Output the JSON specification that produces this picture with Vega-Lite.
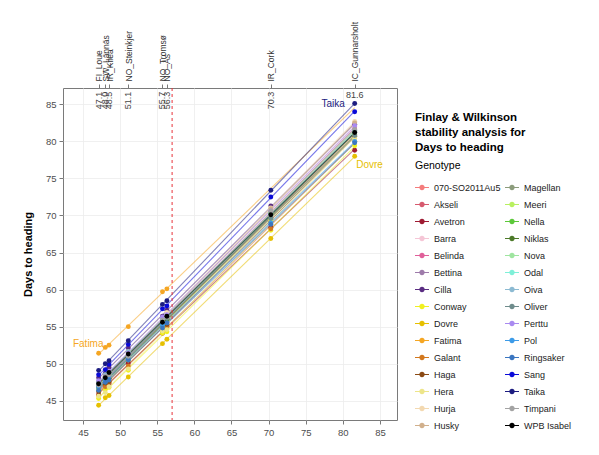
{
  "$schema": "https://vega.github.io/schema/vega-lite/v6.json",
  "width": 334,
  "height": 332,
  "autosize": {"type": "none"},
  "padding": {"left": 63, "top": 88, "right": 202, "bottom": 35},
  "background": "white",
  "config": {
    "font": "Liberation Sans",
    "view": {"stroke": "#7a7a7a", "strokeWidth": 1},
    "axis": {"labelColor": "#4d4d4d", "labelFontSize": 9.5, "tickColor": "#7a7a7a", "tickSize": 4, "domain": false, "gridColor": "#ececec", "gridWidth": 0.8}
  },
  "title": {
    "text": ["Finlay & Wilkinson", "stability analysis for", "Days to heading"],
    "anchor": "start",
    "frame": "group",
    "dx": 352,
    "dy": 132,
    "offset": 0,
    "fontSize": 11.5,
    "fontWeight": "bold",
    "lineHeight": 15,
    "color": "#000000"
  },
  "resolve": {"axis": {"x": "independent", "y": "independent"}},
  "datasets": {
    "obs": [
      {"g":"070-SO2011Au5","x":47.1,"y":46.8},{"g":"070-SO2011Au5","x":48.0,"y":47.3},{"g":"070-SO2011Au5","x":48.5,"y":48.1},{"g":"070-SO2011Au5","x":51.1,"y":50.4},{"g":"070-SO2011Au5","x":55.7,"y":55.5},{"g":"070-SO2011Au5","x":56.3,"y":55.6},{"g":"070-SO2011Au5","x":70.3,"y":69.9},{"g":"070-SO2011Au5","x":81.6,"y":80.9},
      {"g":"Akseli","x":47.1,"y":46.7},{"g":"Akseli","x":48.0,"y":48.1},{"g":"Akseli","x":48.5,"y":48.2},{"g":"Akseli","x":51.1,"y":51.1},{"g":"Akseli","x":55.7,"y":55.2},{"g":"Akseli","x":56.3,"y":56.2},{"g":"Akseli","x":70.3,"y":69.5},{"g":"Akseli","x":81.6,"y":80.9},
      {"g":"Avetron","x":47.1,"y":45.8},{"g":"Avetron","x":48.0,"y":47.1},{"g":"Avetron","x":48.5,"y":47.3},{"g":"Avetron","x":51.1,"y":50.1},{"g":"Avetron","x":55.7,"y":54.1},{"g":"Avetron","x":56.3,"y":55.0},{"g":"Avetron","x":70.3,"y":68.4},{"g":"Avetron","x":81.6,"y":78.8},
      {"g":"Barra","x":47.1,"y":47.6},{"g":"Barra","x":48.0,"y":48.1},{"g":"Barra","x":48.5,"y":48.9},{"g":"Barra","x":51.1,"y":51.2},{"g":"Barra","x":55.7,"y":56.2},{"g":"Barra","x":56.3,"y":56.4},{"g":"Barra","x":70.3,"y":70.8},{"g":"Barra","x":81.6,"y":82.0},
      {"g":"Belinda","x":47.1,"y":46.9},{"g":"Belinda","x":48.0,"y":48.0},{"g":"Belinda","x":48.5,"y":48.6},{"g":"Belinda","x":51.1,"y":50.8},{"g":"Belinda","x":55.7,"y":55.9},{"g":"Belinda","x":56.3,"y":56.1},{"g":"Belinda","x":70.3,"y":70.5},{"g":"Belinda","x":81.6,"y":81.7},
      {"g":"Bettina","x":47.1,"y":47.2},{"g":"Bettina","x":48.0,"y":47.7},{"g":"Bettina","x":48.5,"y":48.3},{"g":"Bettina","x":51.1,"y":51.1},{"g":"Bettina","x":55.7,"y":55.4},{"g":"Bettina","x":56.3,"y":56.3},{"g":"Bettina","x":70.3,"y":69.8},{"g":"Bettina","x":81.6,"y":81.3},
      {"g":"Cilla","x":47.1,"y":48.1},{"g":"Cilla","x":48.0,"y":48.7},{"g":"Cilla","x":48.5,"y":49.5},{"g":"Cilla","x":51.1,"y":52.1},{"g":"Cilla","x":55.7,"y":56.4},{"g":"Cilla","x":56.3,"y":57.2},{"g":"Cilla","x":70.3,"y":71.3},{"g":"Cilla","x":81.6,"y":82.3},
      {"g":"Conway","x":47.1,"y":45.3},{"g":"Conway","x":48.0,"y":46.5},{"g":"Conway","x":48.5,"y":46.8},{"g":"Conway","x":51.1,"y":49.1},{"g":"Conway","x":55.7,"y":54.1},{"g":"Conway","x":56.3,"y":54.3},{"g":"Conway","x":70.3,"y":68.0},{"g":"Conway","x":81.6,"y":79.4},
      {"g":"Dovre","x":47.1,"y":44.4},{"g":"Dovre","x":48.0,"y":45.4},{"g":"Dovre","x":48.5,"y":45.7},{"g":"Dovre","x":51.1,"y":48.2},{"g":"Dovre","x":55.7,"y":52.7},{"g":"Dovre","x":56.3,"y":53.3},{"g":"Dovre","x":70.3,"y":66.9},{"g":"Dovre","x":81.6,"y":78.0},
      {"g":"Fatima","x":47.1,"y":51.4},{"g":"Fatima","x":48.0,"y":52.2},{"g":"Fatima","x":48.5,"y":52.5},{"g":"Fatima","x":51.1,"y":55.0},{"g":"Fatima","x":55.7,"y":59.7},{"g":"Fatima","x":56.3,"y":60.1},
      {"g":"Galant","x":47.1,"y":45.7},{"g":"Galant","x":48.0,"y":46.9},{"g":"Galant","x":48.5,"y":47.5},{"g":"Galant","x":51.1,"y":49.7},{"g":"Galant","x":55.7,"y":54.6},{"g":"Galant","x":56.3,"y":55.0},{"g":"Galant","x":70.3,"y":68.2},{"g":"Galant","x":81.6,"y":80.0},
      {"g":"Haga","x":47.1,"y":46.2},{"g":"Haga","x":48.0,"y":47.4},{"g":"Haga","x":48.5,"y":47.6},{"g":"Haga","x":51.1,"y":50.5},{"g":"Haga","x":55.7,"y":55.1},{"g":"Haga","x":56.3,"y":55.3},{"g":"Haga","x":70.3,"y":69.2},{"g":"Haga","x":81.6,"y":80.7},
      {"g":"Hera","x":47.1,"y":45.6},{"g":"Hera","x":48.0,"y":46.1},{"g":"Hera","x":48.5,"y":46.9},{"g":"Hera","x":51.1,"y":49.3},{"g":"Hera","x":55.7,"y":54.4},{"g":"Hera","x":56.3,"y":54.6},{"g":"Hera","x":70.3,"y":69.3},{"g":"Hera","x":81.6,"y":80.4},
      {"g":"Hurja","x":47.1,"y":47.1},{"g":"Hurja","x":48.0,"y":48.4},{"g":"Hurja","x":48.5,"y":48.6},{"g":"Hurja","x":51.1,"y":51.6},{"g":"Hurja","x":55.7,"y":56.0},{"g":"Hurja","x":56.3,"y":56.9},{"g":"Hurja","x":70.3,"y":71.0},{"g":"Hurja","x":81.6,"y":82.7},
      {"g":"Husky","x":47.1,"y":47.3},{"g":"Husky","x":48.0,"y":47.9},{"g":"Husky","x":48.5,"y":48.7},{"g":"Husky","x":51.1,"y":51.0},{"g":"Husky","x":55.7,"y":56.1},{"g":"Husky","x":56.3,"y":56.4},{"g":"Husky","x":70.3,"y":70.9},{"g":"Husky","x":81.6,"y":82.5},
      {"g":"Magellan","x":47.1,"y":46.6},{"g":"Magellan","x":48.0,"y":47.8},{"g":"Magellan","x":48.5,"y":48.0},{"g":"Magellan","x":51.1,"y":50.9},{"g":"Magellan","x":55.7,"y":55.6},{"g":"Magellan","x":56.3,"y":55.9},{"g":"Magellan","x":70.3,"y":70.2},{"g":"Magellan","x":81.6,"y":81.4},
      {"g":"Meeri","x":47.1,"y":46.5},{"g":"Meeri","x":48.0,"y":47.6},{"g":"Meeri","x":48.5,"y":48.2},{"g":"Meeri","x":51.1,"y":50.5},{"g":"Meeri","x":55.7,"y":55.0},{"g":"Meeri","x":56.3,"y":55.8},{"g":"Meeri","x":70.3,"y":69.5},{"g":"Meeri","x":81.6,"y":80.9},
      {"g":"Nella","x":47.1,"y":47.5},{"g":"Nella","x":48.0,"y":48.2},{"g":"Nella","x":48.5,"y":48.9},{"g":"Nella","x":51.1,"y":51.5},{"g":"Nella","x":55.7,"y":55.7},{"g":"Nella","x":56.3,"y":56.5},{"g":"Nella","x":70.3,"y":70.3},{"g":"Nella","x":81.6,"y":81.0},
      {"g":"Niklas","x":47.1,"y":46.9},{"g":"Niklas","x":48.0,"y":47.5},{"g":"Niklas","x":48.5,"y":48.0},{"g":"Niklas","x":51.1,"y":50.8},{"g":"Niklas","x":55.7,"y":55.2},{"g":"Niklas","x":56.3,"y":56.0},{"g":"Niklas","x":70.3,"y":69.7},{"g":"Niklas","x":81.6,"y":81.3},
      {"g":"Nova","x":47.1,"y":47.0},{"g":"Nova","x":48.0,"y":48.2},{"g":"Nova","x":48.5,"y":48.4},{"g":"Nova","x":51.1,"y":51.3},{"g":"Nova","x":55.7,"y":55.8},{"g":"Nova","x":56.3,"y":56.2},{"g":"Nova","x":70.3,"y":70.4},{"g":"Nova","x":81.6,"y":81.5},
      {"g":"Odal","x":47.1,"y":47.3},{"g":"Odal","x":48.0,"y":47.8},{"g":"Odal","x":48.5,"y":48.6},{"g":"Odal","x":51.1,"y":50.9},{"g":"Odal","x":55.7,"y":55.5},{"g":"Odal","x":56.3,"y":56.4},{"g":"Odal","x":70.3,"y":70.0},{"g":"Odal","x":81.6,"y":81.4},
      {"g":"Oiva","x":47.1,"y":47.4},{"g":"Oiva","x":48.0,"y":48.5},{"g":"Oiva","x":48.5,"y":48.8},{"g":"Oiva","x":51.1,"y":51.6},{"g":"Oiva","x":55.7,"y":56.0},{"g":"Oiva","x":56.3,"y":56.3},{"g":"Oiva","x":70.3,"y":70.1},{"g":"Oiva","x":81.6,"y":81.2},
      {"g":"Oliver","x":47.1,"y":47.0},{"g":"Oliver","x":48.0,"y":48.2},{"g":"Oliver","x":48.5,"y":48.5},{"g":"Oliver","x":51.1,"y":51.2},{"g":"Oliver","x":55.7,"y":55.4},{"g":"Oliver","x":56.3,"y":56.2},{"g":"Oliver","x":70.3,"y":69.6},{"g":"Oliver","x":81.6,"y":80.8},
      {"g":"Perttu","x":47.1,"y":47.7},{"g":"Perttu","x":48.0,"y":48.3},{"g":"Perttu","x":48.5,"y":49.0},{"g":"Perttu","x":51.1,"y":51.4},{"g":"Perttu","x":55.7,"y":56.3},{"g":"Perttu","x":56.3,"y":56.6},{"g":"Perttu","x":70.3,"y":70.6},{"g":"Perttu","x":81.6,"y":82.1},
      {"g":"Pol","x":47.1,"y":46.9},{"g":"Pol","x":48.0,"y":47.6},{"g":"Pol","x":48.5,"y":48.3},{"g":"Pol","x":51.1,"y":50.6},{"g":"Pol","x":55.7,"y":55.2},{"g":"Pol","x":56.3,"y":55.5},{"g":"Pol","x":70.3,"y":69.0},{"g":"Pol","x":81.6,"y":80.0},
      {"g":"Ringsaker","x":47.1,"y":46.4},{"g":"Ringsaker","x":48.0,"y":47.5},{"g":"Ringsaker","x":48.5,"y":47.8},{"g":"Ringsaker","x":51.1,"y":50.5},{"g":"Ringsaker","x":55.7,"y":54.8},{"g":"Ringsaker","x":56.3,"y":55.5},{"g":"Ringsaker","x":70.3,"y":68.8},{"g":"Ringsaker","x":81.6,"y":79.8},
      {"g":"Sang","x":47.1,"y":48.5},{"g":"Sang","x":48.0,"y":49.2},{"g":"Sang","x":48.5,"y":49.9},{"g":"Sang","x":51.1,"y":52.6},{"g":"Sang","x":55.7,"y":57.4},{"g":"Sang","x":56.3,"y":57.8},{"g":"Sang","x":70.3,"y":72.5},{"g":"Sang","x":81.6,"y":84.0},
      {"g":"Taika","x":47.1,"y":49.1},{"g":"Taika","x":48.0,"y":50.0},{"g":"Taika","x":48.5,"y":50.4},{"g":"Taika","x":51.1,"y":53.1},{"g":"Taika","x":55.7,"y":58.0},{"g":"Taika","x":56.3,"y":58.5},{"g":"Taika","x":70.3,"y":73.4},{"g":"Taika","x":81.6,"y":85.1},
      {"g":"Timpani","x":47.1,"y":47.1},{"g":"Timpani","x":48.0,"y":48.3},{"g":"Timpani","x":48.5,"y":48.5},{"g":"Timpani","x":51.1,"y":51.0},{"g":"Timpani","x":55.7,"y":55.9},{"g":"Timpani","x":56.3,"y":56.3},{"g":"Timpani","x":70.3,"y":70.6},{"g":"Timpani","x":81.6,"y":81.6},
      {"g":"WPB Isabel","x":47.1,"y":47.3},{"g":"WPB Isabel","x":48.0,"y":48.1},{"g":"WPB Isabel","x":48.5,"y":48.8},{"g":"WPB Isabel","x":51.1,"y":51.3},{"g":"WPB Isabel","x":55.7,"y":55.6},{"g":"WPB Isabel","x":56.3,"y":56.4},{"g":"WPB Isabel","x":70.3,"y":70.1},{"g":"WPB Isabel","x":81.6,"y":81.2}
    ],
    "env": [
      {"env":"FI_Loue","x":47.1,"lbl":"47.1"},
      {"env":"SW_Lännäs","x":48.0,"lbl":"48.0"},
      {"env":"IR_Kilea","x":48.5,"lbl":"48.5"},
      {"env":"NO_Steinkjer","x":51.1,"lbl":"51.1"},
      {"env":"NO_Tromsø","x":55.7,"lbl":"55.7"},
      {"env":"NO_Ås","x":56.3,"lbl":"56.3"},
      {"env":"IR_Cork","x":70.3,"lbl":"70.3"},
      {"env":"IC_Gunnarsholt","x":81.6,"lbl":"81.6"}
    ],
    "lab": [
      {"g":"Fatima","x":45.7,"y":52.6},
      {"g":"Taika","x":78.7,"y":85.0},
      {"g":"Dovre","x":83.6,"y":76.8}
    ],
    "ref": [{"x":57.0}]
  },
  "layer": [
    {
      "data": {"name": "obs"},
      "transform": [{"regression": "y", "on": "x", "groupby": ["g"], "extent": [47.1, 81.6]}],
      "mark": {"type": "line", "strokeWidth": 1.1, "strokeOpacity": 0.55},
      "encoding": {
        "x": {"field": "x", "type": "quantitative", "scale": {"domain": [42.3, 87.3], "nice": false, "zero": false}, "axis": null},
        "y": {"field": "y", "type": "quantitative", "scale": {"domain": [42.4, 87.2], "nice": false, "zero": false}, "axis": null},
        "color": {"field": "g", "type": "nominal"}
      }
    },
    {
      "data": {"name": "obs"},
      "mark": {"type": "point", "filled": true, "size": 24, "opacity": 1},
      "encoding": {
        "x": {"field": "x", "type": "quantitative", "scale": {"domain": [42.3, 87.3], "nice": false, "zero": false},
          "axis": {"orient": "bottom", "values": [45,50,55,60,65,70,75,80,85], "title": null, "grid": true, "labelPadding": 3}},
        "y": {"field": "y", "type": "quantitative", "scale": {"domain": [42.4, 87.2], "nice": false, "zero": false},
          "axis": {"orient": "left", "values": [45,50,55,60,65,70,75,80,85], "title": "Days to heading", "titleFontSize": 11, "titleFontWeight": "bold", "titleColor": "#000000", "titlePadding": 12, "grid": true, "labelPadding": 3}},
        "color": {"field": "g", "type": "nominal",
          "scale": {
            "domain": ["070-SO2011Au5","Akseli","Avetron","Barra","Belinda","Bettina","Cilla","Conway","Dovre","Fatima","Galant","Haga","Hera","Hurja","Husky","Magellan","Meeri","Nella","Niklas","Nova","Odal","Oiva","Oliver","Perttu","Pol","Ringsaker","Sang","Taika","Timpani","WPB Isabel"],
            "range": ["#F47C7C","#D65A6E","#9E1B32","#F5C6D6","#E0609A","#9E7BAA","#5A2D82","#F0F020","#E6C000","#F5A623","#D2781E","#8B4A14","#EDE58A","#F3D9B1","#D1B08C","#8C9C7C","#B8F060","#5CC83A","#4D7A2A","#9FE5A0","#7FF0D8","#8CBAD2","#6F8C8C","#A98AF0","#3C9BE8","#3B76C0","#0A0AD8","#1C1C80","#A3A3A3","#000000"]
          },
          "legend": {
            "orient": "none", "legendX": 352, "legendY": 73, "columns": 2, "padding": 0,
            "title": "Genotype", "titleFontSize": 10.5, "titleFontWeight": "normal", "titleColor": "#000000", "titlePadding": 9,
            "labelFontSize": 9, "labelColor": "#222222", "labelOffset": 5, "labelLimit": 200,
            "symbolType": "M-1,-0.08L1,-0.08L1,0.08L-1,0.08ZM-0.38,0A0.38,0.38,0,1,1,0.38,0A0.38,0.38,0,1,1,-0.38,0Z",
            "symbolSize": 196, "symbolStrokeWidth": 0, "symbolOpacity": 1,
            "rowPadding": 5, "columnPadding": 4,
            "encode": {"symbols": {"update": {"opacity": {"value": 1}, "fillOpacity": {"value": 1}}}}
          }
        }
      }
    },
    {
      "data": {"name": "ref"},
      "mark": {"type": "rule", "color": "#E8333A", "strokeDash": [3, 3], "strokeWidth": 1},
      "encoding": {
        "x": {"field": "x", "type": "quantitative", "scale": {"domain": [42.3, 87.3], "nice": false, "zero": false}, "axis": null}
      }
    },
    {
      "data": {"name": "env"},
      "transform": [{"filter": "datum.x < 80"}],
      "mark": {"type": "text", "angle": 270, "fontSize": 9, "color": "#444444", "align": "center", "baseline": "middle"},
      "encoding": {
        "x": {"field": "x", "type": "quantitative", "scale": {"domain": [42.3, 87.3], "nice": false, "zero": false},
          "axis": {"orient": "top", "values": [47.1, 48.0, 48.5, 51.1, 55.7, 56.3, 70.3, 81.6], "title": null, "grid": false,
            "labelAngle": 270, "labelFontSize": 8.5, "labelColor": "#333333", "labelOverlap": false, "labelFlush": false, "labelBound": false, "labelPadding": 3,
            "labelExpr": "datum.value == 47.1 ? 'FI_Loue' : datum.value == 48 ? 'SW_Lännäs' : datum.value == 48.5 ? 'IR_Kilea' : datum.value == 51.1 ? 'NO_Steinkjer' : datum.value == 55.7 ? 'NO_Tromsø' : datum.value == 56.3 ? 'NO_Ås' : datum.value == 70.3 ? 'IR_Cork' : 'IC_Gunnarsholt'"}},
        "y": {"datum": 85.5, "type": "quantitative", "scale": {"domain": [42.4, 87.2], "nice": false, "zero": false}, "axis": null},
        "text": {"field": "lbl"}
      }
    },
    {
      "data": {"name": "env"},
      "transform": [{"filter": "datum.x > 80"}],
      "mark": {"type": "text", "fontSize": 9, "color": "#444444", "align": "center", "baseline": "middle"},
      "encoding": {
        "x": {"field": "x", "type": "quantitative", "scale": {"domain": [42.3, 87.3], "nice": false, "zero": false}, "axis": null},
        "y": {"datum": 86.2, "type": "quantitative", "scale": {"domain": [42.4, 87.2], "nice": false, "zero": false}, "axis": null},
        "text": {"field": "lbl"}
      }
    },
    {
      "data": {"name": "lab"},
      "mark": {"type": "text", "fontSize": 10, "align": "center", "baseline": "middle"},
      "encoding": {
        "x": {"field": "x", "type": "quantitative", "scale": {"domain": [42.3, 87.3], "nice": false, "zero": false}, "axis": null},
        "y": {"field": "y", "type": "quantitative", "scale": {"domain": [42.4, 87.2], "nice": false, "zero": false}, "axis": null},
        "text": {"field": "g"},
        "color": {"field": "g", "type": "nominal"}
      }
    }
  ]
}
